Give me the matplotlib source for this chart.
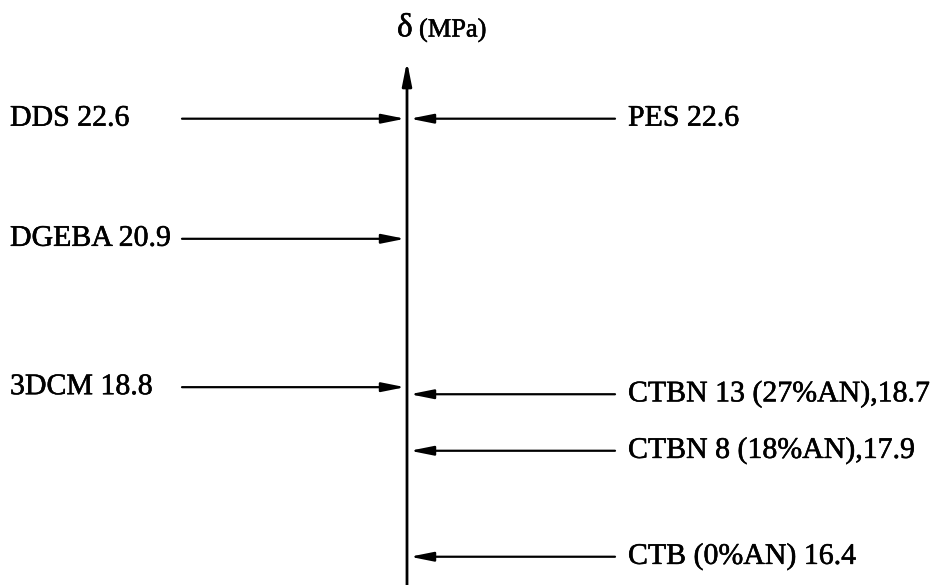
import matplotlib.pyplot as plt
import matplotlib.patheffects as pe

# solubility parameters (MPa^1/2) of the blend components
left_names = ['DDS', 'DGEBA', '3DCM']
left_values = [22.6, 20.9, 18.8]

right_names = ['PES ', 'CTBN 13 (27%AN),', 'CTBN 8 (18%AN),', 'CTB (0%AN) ']
right_values = [22.6, 18.7, 17.9, 16.4]

plt.rcParams['font.family'] = ['Liberation Serif', 'DejaVu Serif']

fig = plt.figure(figsize=(9.37, 5.85), dpi=100)
ax = fig.add_axes([0, 0, 1, 1])
ax.set_xlim(0, 937)
ax.set_ylim(16.0, 24.28)
ax.axis('off')

axis_x = 407
head = dict(arrowstyle='-|>,head_length=1.0,head_width=0.2', color='black',
            lw=1.6, shrinkA=0, shrinkB=0, mutation_scale=14)
heavy = [pe.withStroke(linewidth=0.4, foreground='black')]

# vertical delta axis with arrow on top
ax.annotate('', xy=(axis_x, 0.895), xytext=(axis_x, 0.0),
            xycoords=('data', 'axes fraction'),
            textcoords=('data', 'axes fraction'),
            arrowprops=dict(head, lw=2.0))
ax.text(axis_x - 10, 0.952, 'δ', fontsize=24, ha='left', va='center',
        transform=ax.get_xaxis_transform(), path_effects=heavy)
ax.text(axis_x + 12, 0.948, '(MPa)', fontsize=19, ha='left', va='center',
        transform=ax.get_xaxis_transform(), path_effects=heavy)

for name, v in zip(left_names, left_values):
    ax.text(10, v, f'{name} {v}', fontsize=21.5, ha='left', va='center',
            path_effects=heavy)
    ax.annotate('', xy=(axis_x - 2, v), xytext=(182, v), arrowprops=head)

for name, v in zip(right_names, right_values):
    ax.text(628, v, f'{name}{v}', fontsize=21.5, ha='left', va='center',
            path_effects=heavy)
    ax.annotate('', xy=(axis_x + 3, v), xytext=(615, v), arrowprops=head)

plt.savefig('out.png', dpi=100)
